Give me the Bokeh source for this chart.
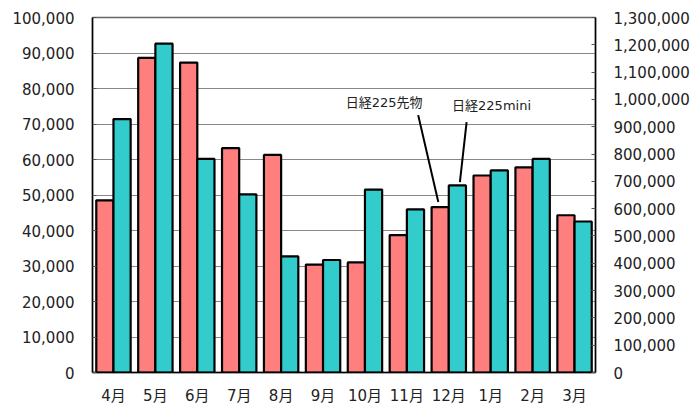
from bokeh.plotting import figure
from bokeh.models import Range1d, LinearAxis, FactorRange, NumeralTickFormatter, Label, SingleIntervalTicker, ColumnDataSource
from bokeh.transform import dodge
from bokeh.embed import file_html
from bokeh.resources import INLINE

months = ["4月", "5月", "6月", "7月", "8月", "9月", "10月", "11月", "12月", "1月", "2月", "3月"]
futures = [48500, 88600, 87300, 63200, 61300, 30400, 31000, 38700, 46600, 55500, 57800, 44300]
mini = [928000, 1204000, 782000, 652000, 425000, 412000, 670000, 597000, 685000, 740000, 782000, 553000]
left_ticks = list(range(0, 100001, 10000))
right_ticks = list(range(0, 1300001, 100000))

FONT = "'DejaVu Sans', 'Noto Sans CJK JP'"
TXT = "#222222"

src = ColumnDataSource(dict(m=months, f=futures, mini=mini))

p = figure(x_range=FactorRange(*months), y_range=Range1d(0, 100000),
           width=698, height=407, output_backend="svg", toolbar_location=None,
           min_border_left=92, min_border_right=103, min_border_top=17, min_border_bottom=33)
p.extra_y_ranges = {"mini": Range1d(0, 1300000)}

p.yaxis.ticker = left_ticks
p.yaxis.formatter = NumeralTickFormatter(format="0,0")
p.yaxis.major_tick_in = 4
p.yaxis.major_tick_out = 0
p.yaxis.minor_tick_line_color = None
p.yaxis.major_label_standoff = 18

ax = LinearAxis(y_range_name="mini", ticker=right_ticks, formatter=NumeralTickFormatter(format="0,0"))
ax.major_tick_in = 4
ax.major_tick_out = 0
ax.minor_tick_line_color = None
ax.major_label_standoff = 18
p.add_layout(ax, "right")

for a in p.yaxis + p.xaxis:
    a.major_label_text_font = FONT
    a.major_label_text_font_size = "15px"
    a.major_label_text_color = TXT
    a.axis_line_color = "black"
    a.axis_line_width = 1.5
    a.major_tick_line_color = "#555555"

p.xaxis.major_tick_line_color = None
p.xaxis.major_tick_in = 0
p.xaxis.major_tick_out = 0
p.xaxis.major_label_standoff = 14

p.ygrid.grid_line_color = "#888888"
p.ygrid.ticker = SingleIntervalTicker(interval=10000)
p.xgrid.grid_line_color = None
p.outline_line_color = "#666666"
p.outline_line_width = 1.5
p.x_range.range_padding = 0
p.x_range.group_padding = 0

p.vbar(x=dodge("m", -0.205, range=p.x_range), top="f", width=0.41, source=src,
       fill_color="#FF7F7F", line_color="black", line_width=2.2)
p.vbar(x=dodge("m", 0.205, range=p.x_range), top="mini", width=0.41, source=src,
       y_range_name="mini", fill_color="#33CCCC", line_color="black", line_width=2.2)

# annotations pointing at December bars
dec = months.index("12月") + 0.5
p.segment(x0=[dec - 0.73, dec + 0.425], y0=[72500, 70500],
          x1=[dec - 0.25, dec + 0.265], y1=[48000, 53600],
          line_color="black", line_width=2)
p.add_layout(Label(x=dec - 1.544, y=76050, text="日経225先物", text_align="center",
                   text_baseline="middle", text_font=FONT, text_font_size="13px", text_color=TXT))
p.add_layout(Label(x=dec + 1.02, y=75200, text="日経225mini", text_align="center",
                   text_baseline="middle", text_font=FONT, text_font_size="13px", text_color=TXT))

open("out.html", "w").write(file_html(p, INLINE))
